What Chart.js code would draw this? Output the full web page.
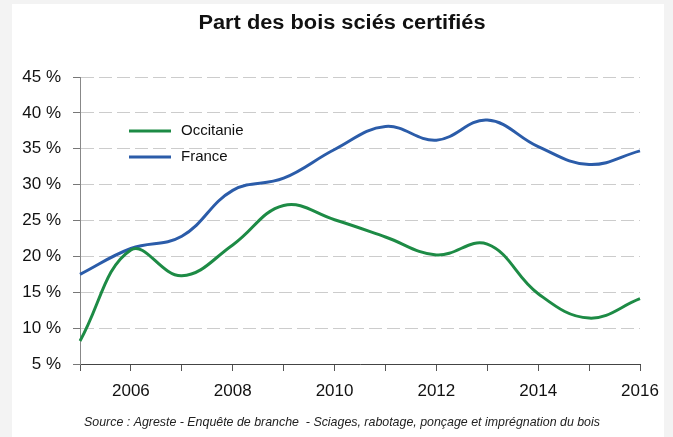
<!DOCTYPE html>
<html>
<head>
<meta charset="utf-8">
<script src="https://cdn.jsdelivr.net/npm/chart.js@4/dist/chart.umd.min.js"></script>
<style>
  body { margin: 0; background: #f3f3f3; }
  #panel { position: absolute; left: 12px; top: 4px; width: 652px; height: 433px; background: #fff; }
  #chart { position: absolute; left: 0; top: 0; }
</style>
</head>
<body>
<div id="panel"></div>
<canvas id="chart" width="673" height="437"></canvas>
<script>
const years = ['2005', '2006', '2007', '2008', '2009', '2010', '2011', '2012', '2013', '2014', '2015', '2016'];
const occitanie = [8.2, 20.9, 17.3, 21.6, 27.1, 25.1, 22.7, 20.2, 21.7, 14.8, 11.4, 14.1];
const france = [17.5, 21.1, 22.8, 29.2, 30.9, 34.9, 38.1, 36.2, 39.0, 35.3, 32.8, 34.7];
const seriesNames = ['Occitanie', 'France'];
const seriesColours = ['#1d8b45', '#2b5ca9'];
const titleText = 'Part des bois sciés certifiés';
const sourceText = 'Source : Agreste - Enquête de branche  - Sciages, rabotage, ponçage et imprégnation du bois';

const font = "'Liberation Sans', Arial, sans-serif";

// titre, source et légende dessinés à la main
const decorations = {
    id: 'decorations',
    afterDraw(chart) {
        const ctx = chart.ctx;
        ctx.save();
        ctx.fillStyle = '#111';
        ctx.textAlign = 'center';
        ctx.textBaseline = 'middle';
        // titre un peu étiré comme dans l'original
        ctx.save();
        ctx.translate(342, 23);
        ctx.scale(1.09, 1);
        ctx.font = 'bold 20px ' + font;
        ctx.fillText(titleText, 0, 0);
        ctx.restore();
        ctx.font = 'italic 12.4px ' + font;
        ctx.fillStyle = '#222';
        ctx.fillText(sourceText, 342, 423);
        // légende
        ctx.textAlign = 'left';
        ctx.font = '15px ' + font;
        chart.data.datasets.forEach(function (ds, i) {
            const y = 131 + i * 26;
            ctx.strokeStyle = ds.borderColor;
            ctx.lineWidth = 3;
            ctx.beginPath();
            ctx.moveTo(129, y);
            ctx.lineTo(171, y);
            ctx.stroke();
            ctx.fillStyle = '#111';
            ctx.fillText(ds.label, 181, y);
        });
        ctx.restore();
    }
};

new Chart(document.getElementById('chart'), {
    type: 'line',
    data: {
        labels: years,
        datasets: [
            { label: seriesNames[0], data: occitanie, borderColor: seriesColours[0], borderWidth: 3, tension: 0.4, pointRadius: 0, fill: false },
            { label: seriesNames[1], data: france, borderColor: seriesColours[1], borderWidth: 3, tension: 0.4, pointRadius: 0, fill: false }
        ]
    },
    options: {
        responsive: false,
        animation: false,
        layout: { padding: { left: 0, right: 33, top: 77, bottom: 33 } },
        plugins: {
            legend: { display: false },
            title: { display: false },
            tooltip: { enabled: false }
        },
        scales: {
            x: {
                offset: false,
                grid: { drawOnChartArea: false, tickLength: 7, tickColor: '#555' },
                border: { color: '#444', width: 1 },
                ticks: {
                    autoSkip: false,
                    maxRotation: 0,
                    padding: 10,
                    color: '#111',
                    font: { family: font, size: 17 },
                    callback: function (v, i) { return i % 2 === 1 ? years[i] : ''; }
                },
                afterFit: function (s) { s.height = 40; }
            },
            y: {
                min: 5,
                max: 45,
                grid: { color: '#cccccc', lineWidth: 1, tickLength: 7, tickColor: '#777' },
                border: { color: '#888', width: 1, dash: [13, 5] },
                ticks: {
                    stepSize: 5,
                    padding: 12,
                    color: '#111',
                    font: { family: font, size: 17 },
                    callback: function (v) { return v + ' %'; }
                },
                afterFit: function (s) { s.width = 80; }
            }
        }
    },
    plugins: [decorations]
});
</script>
</body>
</html>
